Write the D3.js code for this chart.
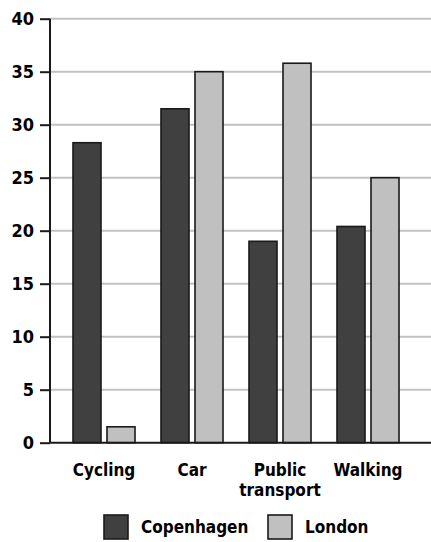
<!DOCTYPE html>
<html>
<head>
<meta charset="utf-8">
<script src="https://cdn.jsdelivr.net/npm/d3@7"></script>
<style>
  html, body { margin: 0; padding: 0; background: #fff; }
  svg { display: block; }
  text { font-family: "DejaVu Sans Condensed", "DejaVu Sans", sans-serif; font-weight: bold; fill: #000; }
</style>
</head>
<body>
<svg id="chart" width="431" height="542"></svg>
<script>
// Share of trips by transport mode (%)
const categories = [["Cycling"], ["Car"], ["Public", "transport"], ["Walking"]];
const series = ["Copenhagen", "London"];
const copenhagen = [28.3, 31.5, 19.0, 20.4];
const london = [1.5, 35.0, 35.8, 25.0];
const yTicks = [0, 5, 10, 15, 20, 25, 30, 35, 40];
const colors = ["#404040", "#c0c0c0"];

const values = [copenhagen, london];
const keys = categories.map(c => c.join(" "));

const svg = d3.select("#chart");
const plotLeft = 50, plotRight = 431, plotTop = 18.7, plotBottom = 442.7;

const y = d3.scaleLinear().domain([0, 40]).range([plotBottom, plotTop]);
const x0 = d3.scaleBand().domain(keys).range([50, 422]).paddingInner(0).paddingOuter(0.1136);
const x1 = d3.scaleBand().domain(series).range([0, x0.bandwidth()]).paddingInner(0.176).paddingOuter(0.382);

// horizontal gridlines
svg.append("g")
  .selectAll("line")
  .data(yTicks.filter(t => t > 0))
  .join("line")
  .attr("x1", plotLeft).attr("x2", plotRight)
  .attr("y1", d => y(d)).attr("y2", d => y(d))
  .attr("stroke", "#c2c2c2").attr("stroke-width", 2);

// bars
const groups = svg.append("g")
  .selectAll("g")
  .data(keys)
  .join("g")
  .attr("transform", d => `translate(${x0(d)},0)`);

groups.selectAll("rect")
  .data((d, i) => series.map((s, j) => ({ s, v: values[j][i], j })))
  .join("rect")
  .attr("x", d => x1(d.s))
  .attr("width", x1.bandwidth())
  .attr("y", d => y(d.v))
  .attr("height", d => y(0) - y(d.v))
  .attr("fill", d => colors[d.j])
  .attr("stroke", "#1a1a1a")
  .attr("stroke-width", 1.6);

// y axis
const yAxis = d3.axisLeft(y).tickValues(yTicks).tickSize(10).tickPadding(6);
const gy = svg.append("g").attr("transform", `translate(${plotLeft},0)`).call(yAxis);
gy.select(".domain").attr("stroke", "#1a1a1a").attr("stroke-width", 2).attr("d", `M0,${plotTop}V${plotBottom}`);
gy.selectAll(".tick line").attr("stroke", "#1a1a1a").attr("stroke-width", 2);
gy.selectAll(".tick text").attr("font-size", 18).attr("font-family", "DejaVu Sans Condensed").attr("font-weight", "bold").attr("fill", "#000");

// x axis baseline
svg.append("line")
  .attr("x1", plotLeft).attr("x2", plotRight)
  .attr("y1", y(0)).attr("y2", y(0))
  .attr("stroke", "#1a1a1a").attr("stroke-width", 2);

// category labels
const xl = svg.append("g")
  .selectAll("text")
  .data(categories)
  .join("text")
  .attr("x", (d, i) => x0(keys[i]) + x0.bandwidth() / 2)
  .attr("y", 476)
  .attr("text-anchor", "middle")
  .attr("font-size", 17);
xl.selectAll("tspan")
  .data(d => d)
  .join("tspan")
  .attr("x", function () { return this.parentNode.getAttribute("x"); })
  .attr("dy", (d, i) => i === 0 ? 0 : 20)
  .text(d => d);

// legend
const legendItems = [{ x: 104, label: series[0], c: colors[0] }, { x: 268, label: series[1], c: colors[1] }];
const lg = svg.append("g").selectAll("g").data(legendItems).join("g")
  .attr("transform", d => `translate(${d.x},515)`);
lg.append("rect").attr("width", 24).attr("height", 24)
  .attr("fill", d => d.c).attr("stroke", "#1a1a1a").attr("stroke-width", 1.6);
lg.append("text").attr("x", 37).attr("y", 18).attr("font-size", 17).text(d => d.label);
</script>
</body>
</html>
